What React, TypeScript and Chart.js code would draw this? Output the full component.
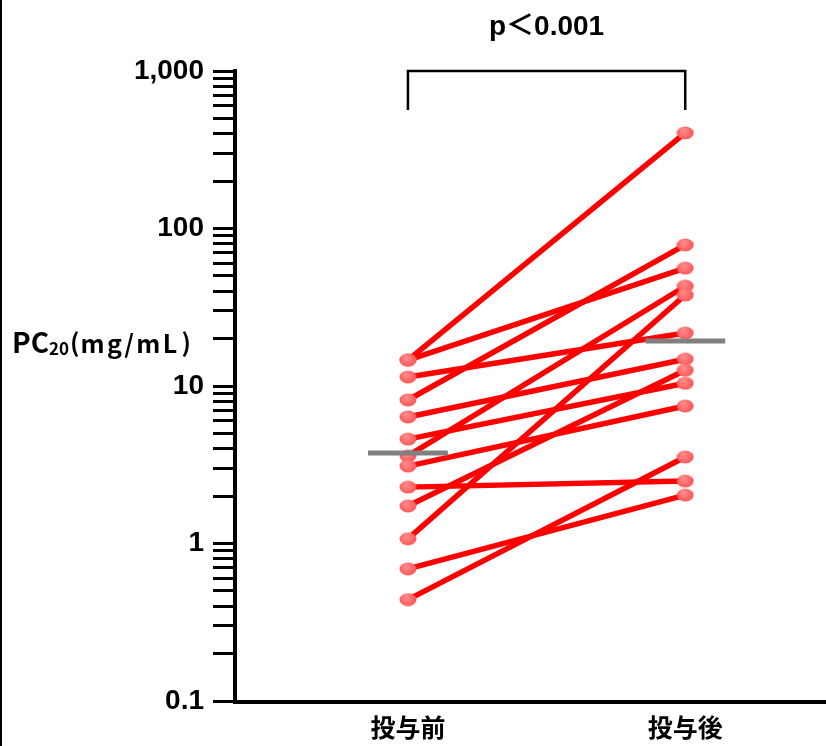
import React, { useEffect, useRef } from "react";
import { Chart, registerables } from "chart.js";

Chart.register(...registerables);

const categories = ["投与前", "投与後"];
const preValues = [14.6, 14.6, 11.4, 8.15, 6.36, 4.6, 3.6, 3.1, 2.28, 1.73, 1.07, 0.69, 0.44];
const postValues = [404, 56, 21.7, 78.6, 14.8, 10.4, 43, 7.46, 2.49, 12.6, 37.8, 2.03, 3.54];
const medianValues = [3.75, 19.3];
const decadeTicks = [0.1, 1, 10, 100, 1000];
const decadeLabels = ["0.1", "1", "10", "100", "1,000"];
const minorMultipliers = [2, 3, 4, 5, 6, 7, 8, 9];
const pValueText = "p＜0.001";
const yTitleMain = "PC";
const yTitleSub = "20";
const yTitleUnit = "mg/mL";

function makeDot(): HTMLCanvasElement {
  const c = document.createElement("canvas");
  c.width = 18;
  c.height = 14;
  const g = c.getContext("2d")!;
  const grad = g.createRadialGradient(7, 4, 1, 9, 7, 10);
  grad.addColorStop(0, "#ff8a8a");
  grad.addColorStop(1, "#ff4a4a");
  g.fillStyle = grad;
  g.beginPath();
  g.ellipse(9, 7, 8.5, 6.4, 0, 0, Math.PI * 2);
  g.fill();
  return c;
}

export default function App() {
  const ref = useRef<HTMLCanvasElement>(null);

  useEffect(() => {
    document.body.style.margin = "0";
    const canvas = ref.current!;
    const dot = makeDot();

    const yTicks: number[] = [];
    decadeTicks.forEach((d, i) => {
      yTicks.push(d);
      if (i < decadeTicks.length - 1) minorMultipliers.forEach((m) => yTicks.push(+(d * m).toPrecision(3)));
    });

    const lineSets = preValues.map((pre, i) => ({
      type: "line" as const,
      data: [
        { x: 1, y: pre },
        { x: 2, y: postValues[i] },
      ],
      borderColor: "#ff0000",
      borderWidth: 5.5,
      pointRadius: 0,
      borderCapStyle: "round" as const,
      order: 2,
    }));

    const pointSets = [preValues, postValues].map((vals, ci) => ({
      type: "line" as const,
      data: vals.map((v) => ({ x: ci + 1, y: v })),
      showLine: false,
      pointStyle: dot,
      pointRadius: 9,
      order: 0,
    }));

    const halfW = 0.144;
    const medianSets = medianValues.map((m, ci) => ({
      type: "line" as const,
      data: [
        { x: ci + 1 - halfW, y: m },
        { x: ci + 1 + halfW, y: m },
      ],
      borderColor: "#808080",
      borderWidth: 5,
      pointRadius: 0,
      borderCapStyle: "butt" as const,
      order: -1,
    }));

    const decor = {
      id: "decor",
      afterDraw(chart: any) {
        const ctx = chart.ctx as CanvasRenderingContext2D;
        const xs = chart.scales.x;
        const ys = chart.scales.y;
        const area = chart.chartArea;
        ctx.save();
        ctx.strokeStyle = "#000";
        // left frame line
        ctx.lineWidth = 2;
        ctx.beginPath();
        ctx.moveTo(1, 0);
        ctx.lineTo(1, chart.height);
        ctx.stroke();
        // x axis line across to the right edge
        ctx.lineWidth = 4;
        ctx.beginPath();
        ctx.moveTo(area.left - 2, area.bottom + 1);
        ctx.lineTo(chart.width, area.bottom + 1);
        ctx.stroke();
        // bracket
        const x1 = xs.getPixelForValue(1);
        const x2 = xs.getPixelForValue(2);
        const yTop = ys.getPixelForValue(1000);
        ctx.lineWidth = 2.5;
        ctx.beginPath();
        ctx.moveTo(x1, yTop + 39);
        ctx.lineTo(x1, yTop);
        ctx.lineTo(x2, yTop);
        ctx.lineTo(x2, yTop + 39);
        ctx.stroke();
        // p value
        ctx.fillStyle = "#000";
        ctx.font = "bold 28px 'Liberation Sans', 'Noto Sans CJK JP'";
        ctx.textAlign = "center";
        ctx.textBaseline = "middle";
        ctx.fillText(pValueText, (x1 + x2) / 2, 27);
        // y title
        ctx.textAlign = "left";
        ctx.textBaseline = "alphabetic";
        let x = 12;
        const base = 353;
        ctx.font = "bold 28px 'Noto Sans CJK JP'";
        ctx.fillText(yTitleMain, x, base);
        x += ctx.measureText(yTitleMain).width;
        ctx.font = "bold 17px 'Noto Sans CJK JP'";
        ctx.fillText(yTitleSub, x, base + 2);
        x += ctx.measureText(yTitleSub).width + 1;
        ctx.font = "bold 25px 'Noto Sans CJK JP'";
        ctx.fillText("(", x, base - 1);
        x += ctx.measureText("(").width + 1;
        const w = ctx.measureText(yTitleUnit).width;
        const spacing = Math.max(0, (100 - w) / yTitleUnit.length);
        let cx = x;
        for (const ch of yTitleUnit) {
          ctx.fillText(ch, cx, base);
          cx += ctx.measureText(ch).width + spacing;
        }
        ctx.fillText(")", cx + 2, base - 1);
        ctx.restore();
      },
    };

    const chart = new Chart(canvas, {
      type: "line",
      data: { datasets: [...medianSets, ...pointSets, ...lineSets] as any },
      options: {
        animation: false,
        responsive: false,
        devicePixelRatio: 1,
        layout: { padding: { top: 71, left: 0, right: 0, bottom: 0 } },
        plugins: { legend: { display: false }, tooltip: { enabled: false }, title: { display: false } },
        scales: {
          x: {
            type: "linear",
            min: 0.3763,
            max: 2.4716,
            afterBuildTicks: (s: any) => {
              s.ticks = categories.map((_, i) => ({ value: i + 1 }));
            },
            afterFit: (s: any) => {
              s.height = 45;
            },
            ticks: {
              autoSkip: false,
              callback: (v: any) => categories[Math.round(Number(v)) - 1] ?? "",
              font: { family: "'Noto Sans CJK JP'", size: 25, weight: "bold" },
              color: "#000",
              padding: 11,
              maxRotation: 0,
            },
            grid: { drawOnChartArea: false, drawTicks: false },
            border: { display: false },
          },
          y: {
            type: "logarithmic",
            min: 0.1,
            max: 1000,
            afterBuildTicks: (s: any) => {
              s.ticks = yTicks.map((v) => ({ value: v }));
            },
            afterFit: (s: any) => {
              s.width = 235;
            },
            ticks: {
              autoSkip: false,
              callback: (v: any) => {
                const idx = decadeTicks.findIndex((d) => Math.abs(d - Number(v)) < d * 1e-6);
                return idx >= 0 ? decadeLabels[idx] : "";
              },
              font: { family: "'Liberation Sans'", size: 28, weight: "bold" },
              color: "#000",
              padding: 9,
            },
            grid: {
              drawOnChartArea: false,
              drawTicks: true,
              tickLength: 22,
              tickWidth: 3,
              tickColor: "#000",
            },
            border: { display: true, color: "#000", width: 4 },
          },
        },
      },
      plugins: [decor],
    });

    return () => chart.destroy();
  }, []);

  return (
    <div style={{ width: 826, height: 746 }}>
      <canvas ref={ref} width={826} height={746} style={{ display: "block", width: 826, height: 746 }} />
    </div>
  );
}
